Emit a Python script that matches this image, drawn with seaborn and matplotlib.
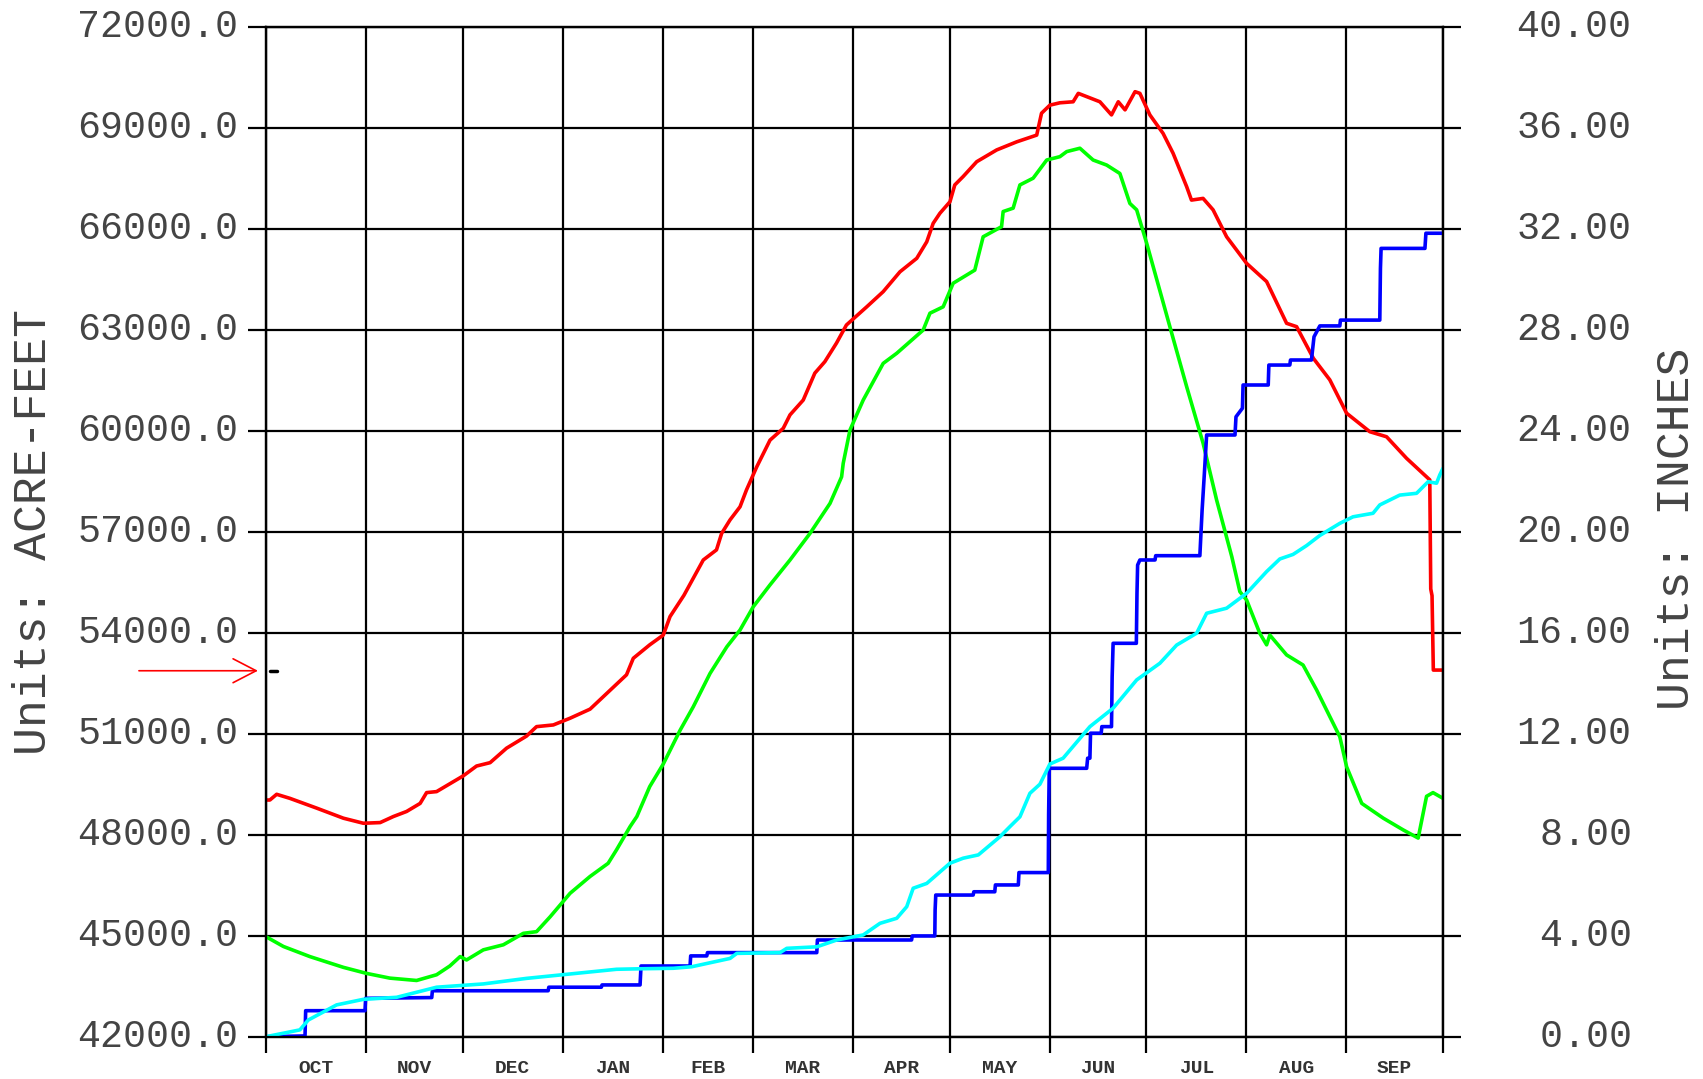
import numpy as np
import matplotlib
matplotlib.use("Agg")
import matplotlib.pyplot as plt
import seaborn as sns

# ---------------- data ----------------
months = ["OCT", "NOV", "DEC", "JAN", "FEB", "MAR", "APR", "MAY", "JUN", "JUL", "AUG", "SEP"]
month_days = [31, 30, 31, 31, 28, 31, 30, 31, 30, 31, 31, 30]

left_ticks = [42000, 45000, 48000, 51000, 54000, 57000, 60000, 63000, 66000, 69000, 72000]
right_ticks = [0, 4, 8, 12, 16, 20, 24, 28, 32, 36, 40]

# storage, acre-feet (red)
red_day = [0, 1.2, 3.3, 7.4, 15.7, 24, 30.2, 35.4, 39.5, 43.6, 47.8, 49.8, 52.9, 61.2, 65.3,
           69.5, 74.6, 80.8, 83.9, 89.1, 94.3, 100.5, 104.6, 111.8, 113.9, 119, 123.2, 125.3,
           129.6, 135.6, 139.7, 141.3, 143.9, 147, 149, 152.2, 156.3, 160.4, 162.5, 166.6,
           170.2, 173.3, 176.9, 180, 186.3, 191.4, 196.6, 201.8, 204.9, 206.9, 209, 212.1,
           213.6, 216.2, 220.4, 226.6, 232.8, 239, 240.5, 243.1, 246.2, 250.3, 251.9, 258.6,
           262.2, 264.3, 266.4, 269.5, 271, 274.1, 278.2, 281.3, 285.5, 287, 290.6, 293.7,
           297.9, 304.1, 310.3, 316.5, 319.6, 324.8, 329.9, 335.1, 342.3, 347.5, 353.7,
           360.9, 361.2, 361.6, 362, 365]
red_af = [49030, 49030, 49200, 49080, 48790, 48490, 48340, 48360, 48540, 48690, 48930, 49250,
          49280, 49750, 50040, 50140, 50570, 50930, 51210, 51260, 51460, 51730, 52100, 52750,
          53240, 53640, 53930, 54480, 55110, 56160, 56460, 56950, 57350, 57740, 58240, 58930,
          59720, 60070, 60470, 60910, 61710, 62050, 62600, 63140, 63680, 64130, 64720, 65120,
          65610, 66160, 66460, 66800, 67300, 67550, 67990, 68340, 68580, 68780, 69430, 69670,
          69740, 69770, 70020, 69770, 69380, 69770, 69530, 70070, 70020, 69380, 68830, 68240,
          67250, 66850, 66900, 66560, 65760, 64970, 64430, 63190, 63090, 62150, 61510, 60520,
          59970, 59820, 59180, 58540, 55300, 55100, 52890, 52890]

# average storage, acre-feet (green)
green_day = [0, 5.4, 13.6, 24, 31.2, 38.4, 46.7, 52.9, 57, 60.2, 62.2, 67.4, 73.6, 79.8, 83.9,
             88.1, 94.3, 100.5, 106.1, 108.7, 112.9, 115, 119, 123.2, 128.4, 132.5, 137.7,
             142.9, 147, 151.1, 156.3, 162.5, 168.7, 174.9, 178.5, 179, 181.1, 185.2, 191.4,
             195.6, 203.8, 205.9, 210, 213.1, 219.8, 222.4, 228.1, 228.6, 231.7, 233.8, 237.9,
             242.1, 246.2, 248.3, 252.4, 256.5, 260.7, 264.8, 267.9, 270, 273.1, 280.3, 285.5,
             290.6, 294.8, 299.5, 302, 304.1, 308.2, 310.3, 311.3, 316.5, 321.6, 325.8, 333,
             335.1, 339.8, 346.5, 352.7, 357.3, 359.9, 361.9, 365]
green_af = [44970, 44680, 44380, 44060, 43880, 43740, 43670, 43840, 44100, 44380, 44280, 44580,
            44730, 45070, 45120, 45560, 46260, 46760, 47150, 47550, 48240, 48540, 49430, 50100,
            51100, 51800, 52790, 53580, 54080, 54770, 55420, 56160, 56950, 57840, 58630, 59030,
            60020, 60910, 62000, 62300, 62990, 63490, 63680, 64380, 64770, 65760, 66060, 66510,
            66610, 67300, 67500, 68040, 68140, 68290, 68390, 68040, 67890, 67640, 66750, 66560,
            65570, 63090, 61310, 59630, 57940, 56260, 55220, 54970, 53980, 53640, 53930, 53340,
            53040, 52300, 50910, 50020, 48930, 48490, 48140, 47900, 49140, 49250, 49080]

# cumulative precipitation, inches (blue)
blue_day = [0, 12.1, 12.3, 30.7, 30.9, 51.4, 51.6, 87.5, 87.7, 104, 104.2, 116, 116.3, 131.5,
            131.7, 136.7, 136.9, 170.8, 171, 200.2, 200.4, 207.4, 207.5, 207.7, 219.3, 219.5,
            226, 226.2, 233.3, 233.5, 242.6, 242.7, 242.9, 254.5, 254.8, 255.5, 255.7, 259,
            259.2, 262.2, 262.4, 262.7, 269.9, 270.1, 270.3, 271, 275.7, 275.9, 289.6, 290.3,
            291, 291.7, 300.5, 300.8, 302.8, 303, 310.8, 311, 317.5, 317.7, 324.2, 325, 326.8,
            333, 333.2, 345.4, 345.6, 345.8, 359.4, 359.7, 365]
blue_in = [0, 0.03, 1.03, 1.03, 1.52, 1.55, 1.82, 1.82, 1.96, 1.96, 2.05, 2.05, 2.80, 2.80,
           3.20, 3.20, 3.33, 3.33, 3.83, 3.83, 3.99, 3.99, 5.02, 5.61, 5.61, 5.74, 5.74, 6.01,
           6.01, 6.50, 6.50, 8.80, 10.63, 10.63, 11.03, 11.03, 12.02, 12.02, 12.28, 12.28,
           14.25, 15.58, 15.58, 17.56, 18.68, 18.88, 18.88, 19.05, 19.05, 20.86, 22.31, 23.83,
           23.83, 24.55, 24.89, 25.81, 25.81, 26.6, 26.6, 26.8, 26.8, 27.72, 28.15, 28.15,
           28.38, 28.38, 30.43, 31.22, 31.22, 31.82, 31.82]

# average cumulative precipitation, inches (cyan)
cyan_day = [0, 10.5, 13.1, 21.9, 30.2, 40.5, 52.9, 67.4, 80.8, 96.3, 108.7, 116, 126.3, 132,
            143.9, 146, 159.4, 161.5, 170.8, 177, 185.2, 190.4, 195.6, 198.7, 200.7, 204.9,
            212.1, 216.2, 220.9, 227.6, 230.7, 233.8, 236.9, 240, 243.1, 247.2, 255.5, 262.7,
            270, 277.2, 282.4, 288.6, 291.7, 297.9, 304.1, 310.3, 314.4, 318.5, 322.7, 326.8,
            333, 337.1, 343.3, 345.4, 351.6, 356.8, 360.4, 363, 364, 365]
cyan_in = [0, 0.27, 0.66, 1.26, 1.48, 1.56, 1.96, 2.09, 2.31, 2.51, 2.67, 2.69, 2.71, 2.77,
           3.10, 3.30, 3.33, 3.50, 3.56, 3.83, 4.03, 4.49, 4.69, 5.15, 5.88, 6.07, 6.87, 7.07,
           7.20, 7.92, 8.32, 8.71, 9.64, 10.0, 10.8, 11.03, 12.28, 13.01, 14.13, 14.79, 15.51,
           15.98, 16.77, 16.97, 17.56, 18.42, 18.92, 19.1, 19.45, 19.85, 20.33, 20.59, 20.73,
           21.06, 21.45, 21.52, 21.98, 21.92, 22.25, 22.51]

# small black mark near the start and the red arrow pointing at it
mark_day = [1.2, 3.5]
mark_af = [52870, 52870]

# ---------------- figure ----------------
sns.set_theme(style="white")
plt.rcParams["font.family"] = ["Liberation Mono", "DejaVu Sans Mono", "DejaVu Sans"]

W, H = 1703, 1079
fig = plt.figure(figsize=(W / 100, H / 100), dpi=100)
fig.patch.set_facecolor("white")
ax = fig.add_axes([266 / W, 1 - 1036.7 / H, 1177 / W, 1010 / H])
ax2 = ax.twinx()

label_color = "#444444"
grid_lw = 1.6

bounds = np.concatenate([[0], np.cumsum(month_days)])
centers = (bounds[:-1] + bounds[1:]) / 2

ax.set_xlim(bounds[0], bounds[-1])
ax.set_ylim(left_ticks[0], left_ticks[-1])
ax2.set_ylim(right_ticks[0], right_ticks[-1])

ax.set_xticks(bounds)
ax.set_xticklabels([""] * len(bounds))
ax.set_xticks(centers, minor=True)
ax.set_xticklabels(months, minor=True)
ax.set_yticks(left_ticks)
ax.set_yticklabels(["%.1f" % v for v in left_ticks])
ax2.set_yticks(right_ticks)
ax2.set_yticklabels(["%5.2f" % v for v in right_ticks])

ax.grid(True, which="major", color="black", lw=grid_lw)
ax.grid(False, which="minor")
ax2.grid(False)
ax.set_axisbelow(True)

ax.tick_params(axis="y", which="major", direction="out", length=13, width=grid_lw,
               color="black", labelsize=27.5, labelcolor=label_color, pad=7, left=True)
ax.tick_params(axis="x", which="major", direction="out", length=11.5, width=grid_lw,
               color="black", bottom=True)
ax.tick_params(axis="x", which="minor", length=0, pad=17, labelsize=14,
               labelcolor="#333333", bottom=True)
for t in ax.get_xticklabels(minor=True):
    t.set_fontweight("bold")
ax2.tick_params(axis="y", which="major", direction="out", length=13, width=grid_lw,
                color="black", labelsize=27.5, labelcolor=label_color, pad=40, right=True)
for t in ax.get_yticklabels() + ax2.get_yticklabels():
    t.set_verticalalignment("center")

for a in (ax, ax2):
    for s in a.spines.values():
        s.set_color("black")
        s.set_linewidth(grid_lw)

lw = 2.6
sns.lineplot(x=blue_day, y=blue_in, ax=ax2, color="#0000ff", lw=lw, sort=False,
             estimator=None, legend=False)
sns.lineplot(x=cyan_day, y=cyan_in, ax=ax2, color="#00ffff", lw=lw, sort=False,
             estimator=None, legend=False)
sns.lineplot(x=green_day, y=green_af, ax=ax, color="#00ff00", lw=lw, sort=False,
             estimator=None, legend=False)
sns.lineplot(x=red_day, y=red_af, ax=ax, color="#ff0000", lw=lw, sort=False,
             estimator=None, legend=False)
sns.lineplot(x=mark_day, y=mark_af, ax=ax, color="black", lw=2.5, sort=False,
             estimator=None, legend=False)
ax.set_xlabel("")
ax.set_ylabel("")
ax2.set_ylabel("")

ax.annotate("", xy=(-2.5, mark_af[0]), xytext=(-39.4, mark_af[0]), xycoords="data",
            textcoords="data", annotation_clip=False,
            arrowprops=dict(arrowstyle="->,head_length=0.83,head_width=0.43",
                            mutation_scale=20, color="#ff0000", lw=1.2,
                            shrinkA=0, shrinkB=0))

fig.text(34 / W, 1 - 531.7 / H, "Units: ACRE-FEET", rotation=90, ha="center", va="center",
         fontsize=33.5, color=label_color)
fig.text(1677 / W, 1 - 529 / H, "Units: INCHES", rotation=90, ha="center", va="center",
         fontsize=33.5, color=label_color)

fig.savefig("out.png", dpi=100, facecolor="white")
